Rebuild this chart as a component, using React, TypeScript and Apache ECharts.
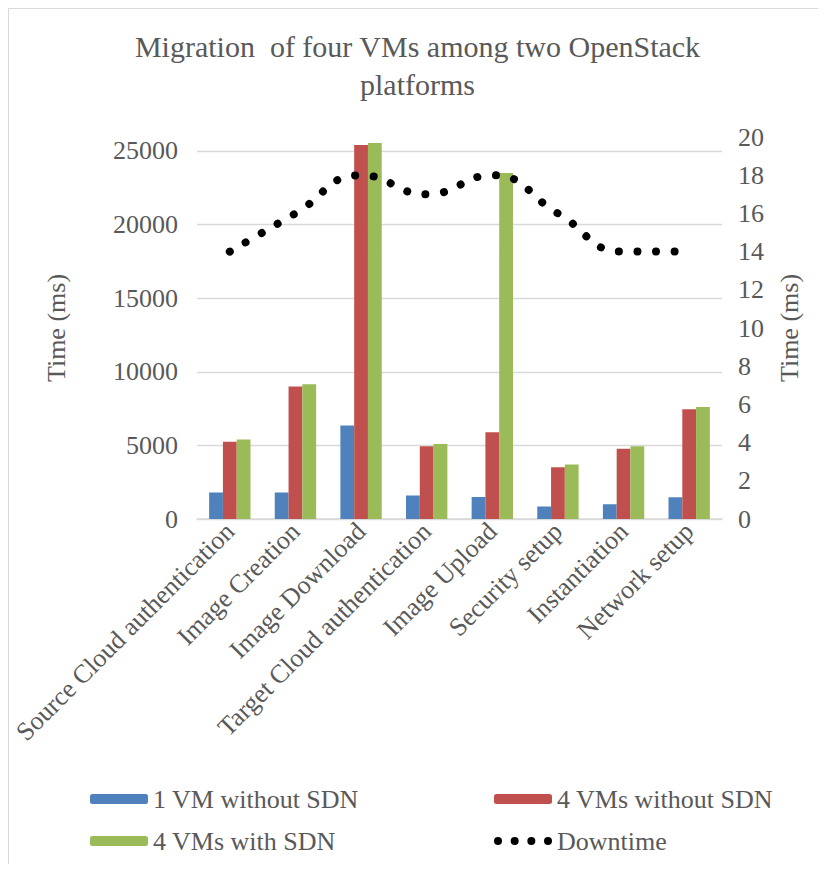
import React, { useEffect, useRef } from "react";
import * as echarts from "echarts";

const categories = [
  "Source Cloud authentication",
  "Image Creation",
  "Image Download",
  "Target Cloud authentication",
  "Image Upload",
  "Security setup",
  "Instantiation",
  "Network setup",
];
const oneVmNoSdn = [1800, 1800, 6350, 1600, 1500, 850, 1000, 1480];
const fourVmsNoSdn = [5250, 9000, 25400, 4950, 5900, 3520, 4770, 7450];
const fourVmsSdn = [5400, 9150, 25550, 5100, 23500, 3700, 4950, 7600];
const downtime = [14, 16, 18, 17, 18, 16, 14, 14];
const leftTicks = { min: 0, max: 25950, interval: 5000 };
const rightTicks = { min: 0, max: 20, interval: 2 };

const FONT = "'Liberation Serif', serif";
const TXT = "#595959";

const dotsIcon =
  "path://M0,0L0.01,0M0,10L0.01,10" +
  "M0,5a4,4 0 1,0 8,0a4,4 0 1,0 -8,0Z" +
  "M16.67,5a4,4 0 1,0 8,0a4,4 0 1,0 -8,0Z" +
  "M33.33,5a4,4 0 1,0 8,0a4,4 0 1,0 -8,0Z" +
  "M50,5a4,4 0 1,0 8,0a4,4 0 1,0 -8,0Z";

export default function App() {
  const ref = useRef<HTMLDivElement>(null);
  useEffect(() => {
    if (!ref.current) return;
    const chart = echarts.init(ref.current, null, { renderer: "svg" });
    const legendCommon = {
      orient: "vertical" as const,
      itemWidth: 58,
      itemHeight: 10,
      itemGap: 16,
      textStyle: { fontFamily: FONT, fontSize: 26, color: TXT },
    };
    chart.setOption({
      animation: false,
      textStyle: { fontFamily: FONT },
      title: {
        text: "Migration  of four VMs among two OpenStack\nplatforms",
        left: "center",
        top: 13,
        textStyle: {
          fontFamily: FONT,
          fontSize: 30,
          fontWeight: "normal",
          color: TXT,
          lineHeight: 38,
        },
      },
      legend: [
        {
          ...legendCommon,
          left: 76,
          top: 772,
          data: ["1 VM without SDN", "4 VMs with SDN"],
        },
        {
          ...legendCommon,
          left: 480,
          top: 772,
          data: ["4 VMs without SDN", { name: "Downtime", icon: dotsIcon }],
        },
      ],
      grid: { left: 188, right: 104, top: 128, bottom: 345 },
      xAxis: {
        type: "category",
        data: categories,
        axisLine: { lineStyle: { color: "#d9d9d9", width: 1.5 } },
        axisTick: { show: false },
        axisLabel: {
          interval: 0,
          rotate: 45,
          fontFamily: FONT,
          fontSize: 26,
          color: TXT,
          margin: 8,
        },
      },
      yAxis: [
        {
          type: "value",
          ...leftTicks,
          name: "Time (ms)",
          nameLocation: "middle",
          nameRotate: 90,
          nameGap: 128,
          nameTextStyle: { fontFamily: FONT, fontSize: 26, color: TXT },
          axisLine: { show: false },
          axisTick: { show: false },
          axisLabel: {
            showMaxLabel: false,
            fontFamily: FONT,
            fontSize: 26,
            color: TXT,
            margin: 19,
            formatter: (v: number) => String(v),
          },
          splitLine: {
            show: true,
            showMaxLine: false,
            lineStyle: { color: "#d9d9d9", width: 1.3 },
          },
        },
        {
          type: "value",
          ...rightTicks,
          position: "right",
          name: "Time (ms)",
          nameLocation: "middle",
          nameRotate: 90,
          nameGap: 54,
          nameTextStyle: { fontFamily: FONT, fontSize: 26, color: TXT },
          axisLine: { show: false },
          axisTick: { show: false },
          splitLine: { show: false },
          axisLabel: {
            fontFamily: FONT,
            fontSize: 26,
            color: TXT,
            margin: 16,
            formatter: (v: number) => String(v),
          },
        },
      ],
      series: [
        {
          name: "1 VM without SDN",
          type: "bar",
          data: oneVmNoSdn,
          itemStyle: { color: "#4f81bd" },
          barGap: "0%",
          barCategoryGap: "37%",
        },
        {
          name: "4 VMs without SDN",
          type: "bar",
          data: fourVmsNoSdn,
          itemStyle: { color: "#c0504d" },
          barGap: "0%",
          barCategoryGap: "37%",
        },
        {
          name: "4 VMs with SDN",
          type: "bar",
          data: fourVmsSdn,
          itemStyle: { color: "#9bbb59" },
          barGap: "0%",
          barCategoryGap: "37%",
        },
        {
          name: "Downtime",
          type: "line",
          yAxisIndex: 1,
          data: downtime,
          smooth: true,
          showSymbol: false,
          symbol: "none",
          itemStyle: { color: "#000000" },
          lineStyle: {
            color: "#000000",
            width: 8,
            type: [0.01, 18.5],
            cap: "round",
          },
        },
      ],
    });
    return () => chart.dispose();
  }, []);
  return (
    <div
      style={{
        width: 818,
        height: 856,
        boxSizing: "border-box",
        borderTop: "1px solid #d9d9d9",
        borderLeft: "1px solid #d9d9d9",
        background: "#fff",
      }}
    >
      <div ref={ref} style={{ width: 817, height: 855 }} />
    </div>
  );
}
